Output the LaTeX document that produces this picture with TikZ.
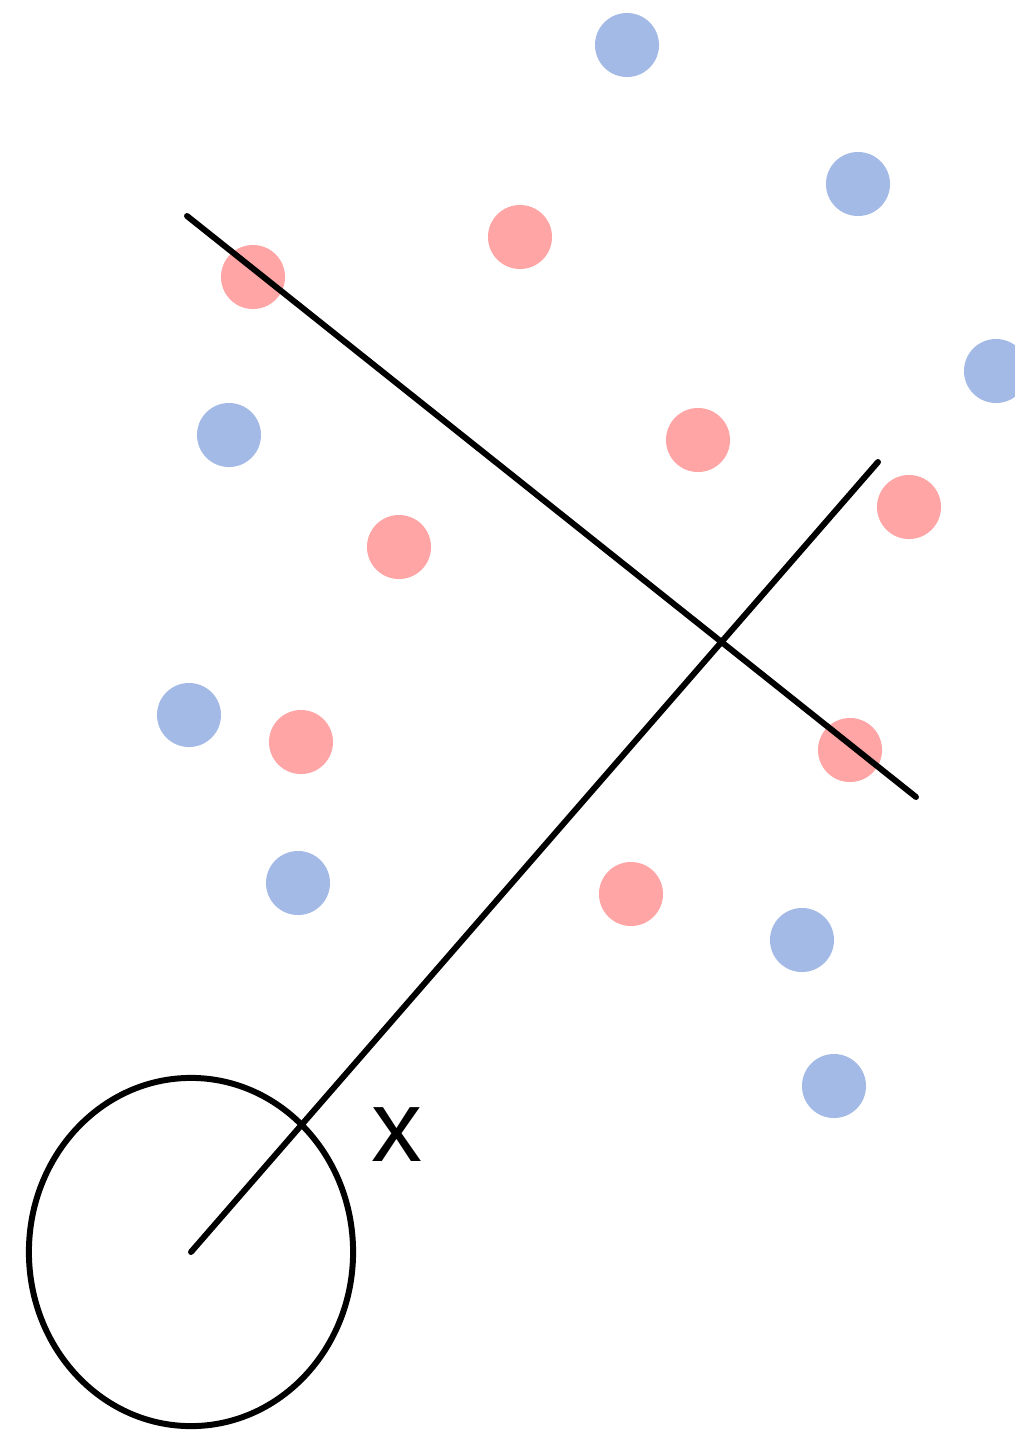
\documentclass[tikz,border=0pt]{standalone}
\usepackage{fontspec}
\setsansfont{Liberation Sans}
\usetikzlibrary{shapes.geometric}
\definecolor{dotblue}{HTML}{A4BAE6}
\definecolor{dotred}{HTML}{FFA5A5}
\tikzset{
  bluedot/.style={circle, fill=dotblue, minimum size=0.64cm, inner sep=0pt},
  reddot/.style={circle, fill=dotred, minimum size=0.64cm, inner sep=0pt},
  boundary/.style={line width=1.7pt, line cap=round}
}
\begin{document}
\begin{tikzpicture}[x=0.01cm, y=-0.01cm]
\useasboundingbox (0,0) rectangle (1014,1436);
% blue points
\node (b1) [bluedot] at (627,45) {};
\node (b2) [bluedot] at (858,184) {};
\node (b3) [bluedot] at (996,371) {};
\node (b4) [bluedot] at (229,435) {};
\node (b5) [bluedot] at (189,715) {};
\node (b6) [bluedot] at (298,883) {};
\node (b7) [bluedot] at (802,940) {};
\node (b8) [bluedot] at (834,1086) {};
% red points
\node (r1) [reddot] at (520,237) {};
\node (r2) [reddot] at (253,277) {};
\node (r3) [reddot] at (698,440) {};
\node (r4) [reddot] at (909,507) {};
\node (r5) [reddot] at (399,547) {};
\node (r6) [reddot] at (301,742) {};
\node (r7) [reddot] at (850,750) {};
\node (r8) [reddot] at (631,894) {};
% lines
\coordinate (a1) at (187,216);
\coordinate (a2) at (916,797);
\coordinate (w) at (878,462);
\node (ball) [ellipse, draw, line width=1.7pt, minimum width=3.24cm, minimum height=3.48cm, inner sep=0pt] at (191,1252) {};
\draw [boundary] (a1) -- (a2);
\draw [boundary] (ball.center) -- (w);
\node (x) at (397,1135) {\sffamily\fontsize{29}{34}\selectfont x};
\end{tikzpicture}
\end{document}
